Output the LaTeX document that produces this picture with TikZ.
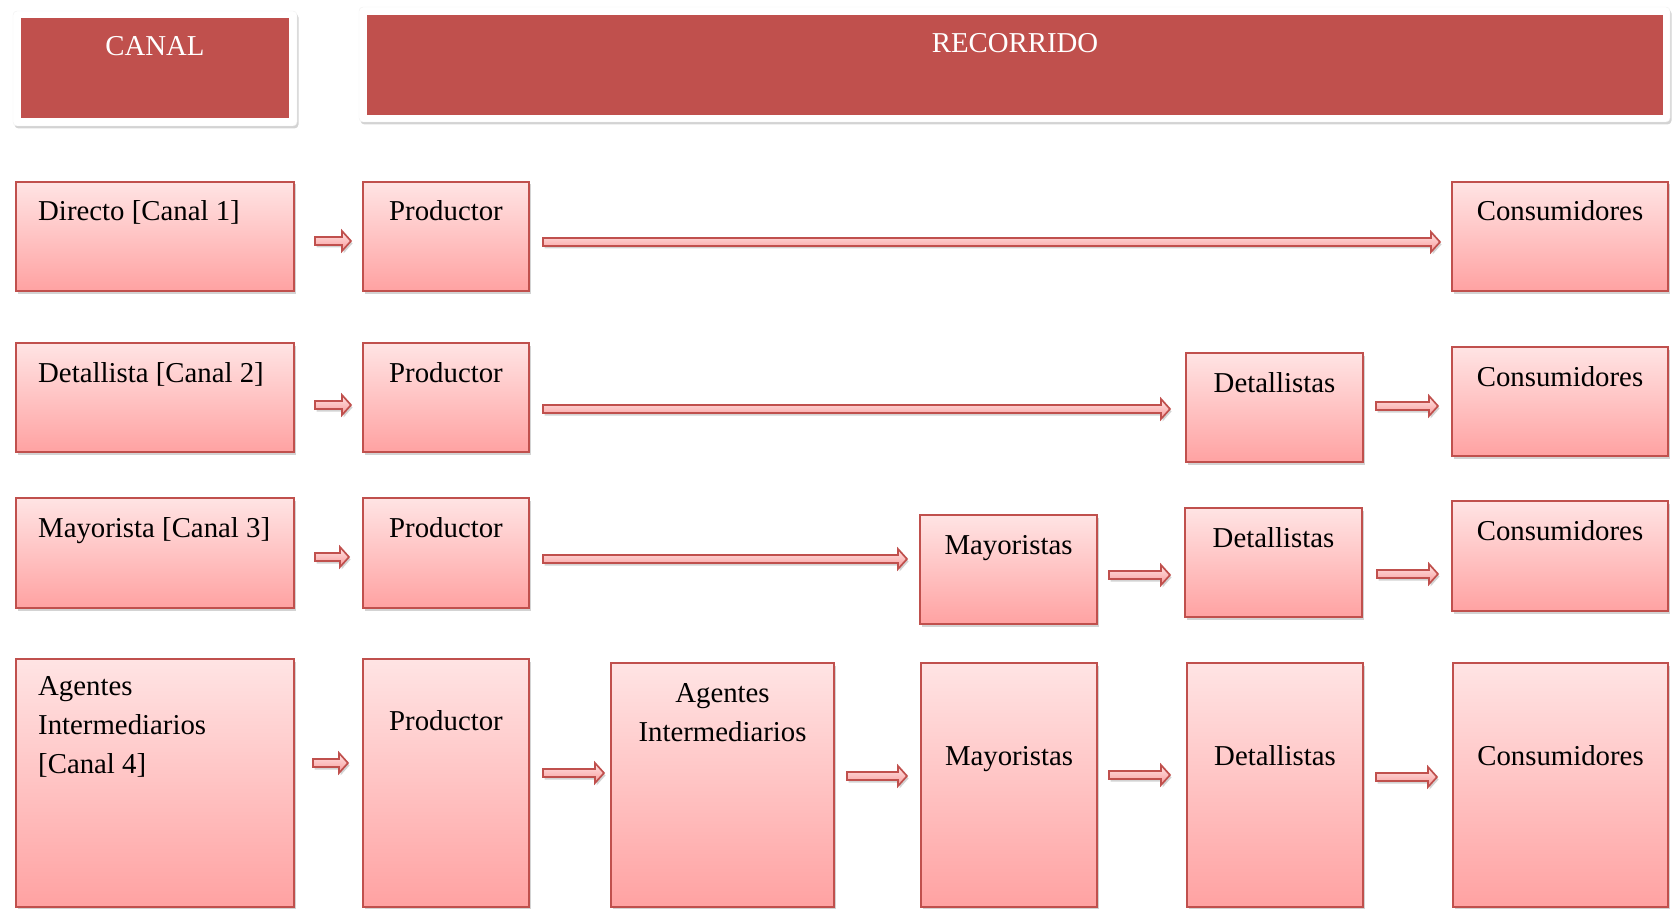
\documentclass[tikz,border=0pt]{standalone}
\usepackage{fontspec}
\setmainfont{Liberation Serif}
\usetikzlibrary{calc,fit,shadows}
\definecolor{rojo}{RGB}{192,80,77}
\definecolor{rosaA}{RGB}{255,228,228}
\definecolor{rosaB}{RGB}{255,162,162}

\begin{document}
\begin{tikzpicture}[x=1pt,y=-1pt,
  sombra/.style={drop shadow={shadow xshift=1.5pt,shadow yshift=-2.5pt,opacity=0.35}},
  caja/.style={draw=rojo,line width=1.5pt,top color=rosaA,bottom color=rosaB,inner sep=0pt,outer sep=0pt,sombra},
  marco/.style={fill=white,draw=black!6,rounded corners=4pt,inner sep=0pt,outer sep=0pt,sombra},
  cabecera/.style={fill=rojo,inner sep=0pt,outer sep=0pt},
  texto/.style={inner sep=0pt,font=\fontsize{28.8}{39}\selectfont},
  flecha/.style={draw=rojo,line width=1.7pt,top color=rosaA,bottom color=rosaB!90!rojo,sombra,
    to path={let \p1=(\tikztostart),\p2=(\tikztotarget) in
      (\x1,\y1+4pt) -- (\x2-9pt,\y1+4pt) -- (\x2-9pt,\y1+10pt) -- (\x2,\y1)
      -- (\x2-9pt,\y1-10pt) -- (\x2-9pt,\y1-4pt) -- (\x1,\y1-4pt) -- cycle}}]
\useasboundingbox (0,0) rectangle (1672,909);
\node[marco,fit={(13,11) (297,126)}] (marcoCanal) {};
\node[cabecera,fit={(21,18) (289,118)}] (canal) {};
\node[texto,text=white,anchor=base] (canalT) at ([yshift=-38pt]canal.north) {CANAL};
\node[marco,fit={(359,7) (1670,122)}] (marcoRec) {};
\node[cabecera,fit={(367,15) (1663,115)}] (rec) {};
\node[texto,text=white,anchor=base] (recT) at ([yshift=-38pt]rec.north) {RECORRIDO};

\node[caja,fit={(16,182) (294,291)}] (dir) {};
\node[caja,fit={(363,182) (529,291)}] (prod1) {};
\node[caja,fit={(1452,182) (1668,291)}] (cons1) {};
\node[texto,anchor=base west] (dirT) at ([xshift=22pt,yshift=-39pt]dir.north west) {Directo [Canal 1]};
\node[texto,anchor=base] (prod1T) at ([yshift=-39pt]prod1.north) {Productor};
\node[texto,anchor=base] (cons1T) at ([yshift=-39pt]cons1.north) {Consumidores};
\draw[flecha] ([xshift=21pt,yshift=-4.5pt]dir.east) to ([xshift=-12pt]prod1.west);
\draw[flecha] ([xshift=14pt,yshift=-5.5pt]prod1.east) to ([xshift=-12pt]cons1.west);

\node[caja,fit={(16,343) (294,452)}] (det) {};
\node[caja,fit={(363,343) (529,452)}] (prod2) {};
\node[caja,fit={(1186,353) (1363,462)}] (detal2) {};
\node[caja,fit={(1452,347) (1668,456)}] (cons2) {};
\node[texto,anchor=base west] (detT) at ([xshift=22pt,yshift=-39pt]det.north west) {Detallista [Canal 2]};
\node[texto,anchor=base] (prod2T) at ([yshift=-39pt]prod2.north) {Productor};
\node[texto,anchor=base] (detal2T) at ([yshift=-39pt]detal2.north) {Detallistas};
\node[texto,anchor=base] (cons2T) at ([yshift=-39pt]cons2.north) {Consumidores};
\draw[flecha] ([xshift=21pt,yshift=-7.5pt]det.east) to ([xshift=-12pt]prod2.west);
\draw[flecha] ([xshift=14pt,yshift=-11.5pt]prod2.east) to ([xshift=-16pt]detal2.west);
\draw[flecha] ([xshift=13pt,yshift=1.5pt]detal2.east) to ([xshift=-14pt]cons2.west);

\node[caja,fit={(16,498) (294,608)}] (may) {};
\node[caja,fit={(363,498) (529,608)}] (prod3) {};
\node[caja,fit={(920,515) (1097,624)}] (mayo3) {};
\node[caja,fit={(1185,508) (1362,617)}] (detal3) {};
\node[caja,fit={(1452,501) (1668,611)}] (cons3) {};
\node[texto,anchor=base west] (mayT) at ([xshift=22pt,yshift=-39pt]may.north west) {Mayorista [Canal 3]};
\node[texto,anchor=base] (prod3T) at ([yshift=-39pt]prod3.north) {Productor};
\node[texto,anchor=base] (mayo3T) at ([yshift=-39pt]mayo3.north) {Mayoristas};
\node[texto,anchor=base] (detal3T) at ([yshift=-39pt]detal3.north) {Detallistas};
\node[texto,anchor=base] (cons3T) at ([yshift=-39pt]cons3.north) {Consumidores};
\draw[flecha] ([xshift=21pt,yshift=-4pt]may.east) to ([xshift=-14pt]prod3.west);
\draw[flecha] ([xshift=14pt,yshift=-6pt]prod3.east) to ([xshift=-13pt]mayo3.west);
\draw[flecha] ([xshift=12pt,yshift=-5.5pt]mayo3.east) to ([xshift=-15pt]detal3.west);
\draw[flecha] ([xshift=15pt,yshift=-11.5pt]detal3.east) to ([xshift=-14pt]cons3.west);

\node[caja,fit={(16,659) (294,907)}] (age) {};
\node[caja,fit={(363,659) (529,907)}] (prod4) {};
\node[caja,fit={(611,663) (834,907)}] (inter4) {};
\node[caja,fit={(921,663) (1097,907)}] (mayo4) {};
\node[caja,fit={(1187,663) (1363,907)}] (detal4) {};
\node[caja,fit={(1453,663) (1668,907)}] (cons4) {};
\node[texto,align=left,anchor=north west] (ageT) at ([xshift=22pt,yshift=-17pt]age.north west) {Agentes\\Intermediarios\\{[Canal 4]}};
\node[texto,anchor=base] (prod4T) at ([yshift=-71pt]prod4.north) {Productor};
\node[texto,align=center,anchor=north] (inter4T) at ([yshift=-20pt]inter4.north) {Agentes\\Intermediarios};
\node[texto,anchor=base] (mayo4T) at ([yshift=-102pt]mayo4.north) {Mayoristas};
\node[texto,anchor=base] (detal4T) at ([yshift=-102pt]detal4.north) {Detallistas};
\node[texto,anchor=base] (cons4T) at ([yshift=-102pt]cons4.north) {Consumidores};
\draw[flecha] ([xshift=19pt,yshift=20pt]age.east) to ([xshift=-15pt]prod4.west);
\draw[flecha] ([xshift=14pt,yshift=10pt]prod4.east) to ([xshift=-7pt]inter4.west);
\draw[flecha] ([xshift=13pt,yshift=9pt]inter4.east) to ([xshift=-14pt]mayo4.west);
\draw[flecha] ([xshift=12pt,yshift=10pt]mayo4.east) to ([xshift=-17pt]detal4.west);
\draw[flecha] ([xshift=13pt,yshift=8pt]detal4.east) to ([xshift=-16pt]cons4.west);
\end{tikzpicture}
\end{document}
